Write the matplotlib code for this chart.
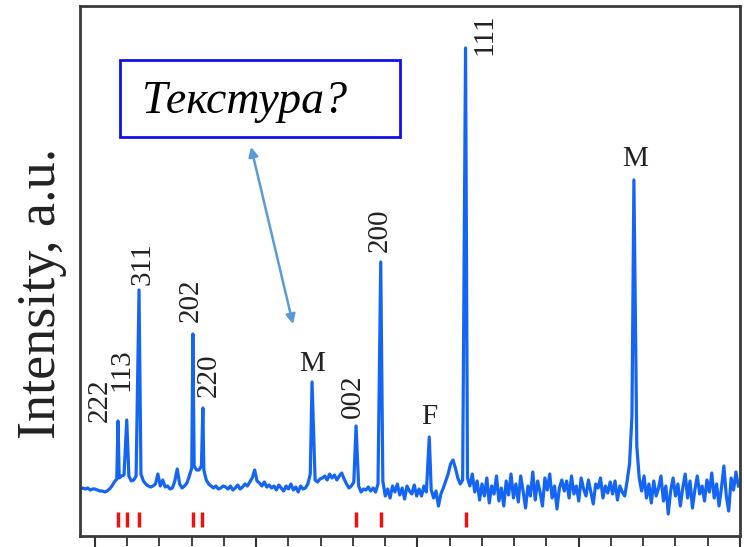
import numpy as np
import matplotlib.pyplot as plt
from matplotlib.patches import Rectangle

# baseline of the pattern, one value every 0.15 deg starting at 29.1
base_start = 29.1
base_step = 0.15
base_vals = [
    47, 48, 47, 48, 46, 47, 47, 46, 45, 45, 44, 45, 47, 50, 54, 57, 58, 60, 61, 65,
    60, 55, 56, 60, 66, 62, 55, 52, 50, 49, 50, 52, 62, 50, 56, 49, 50, 47, 48, 55,
    67, 52, 48, 50, 53, 60, 68, 70, 66, 66, 70, 66, 56, 52, 50, 48, 50, 47, 48, 50,
    49, 47, 50, 46, 48, 51, 47, 49, 52, 50, 54, 58, 66, 55, 53, 50, 54, 49, 51, 48,
    50, 46, 51, 48, 45, 50, 47, 52, 46, 49, 44, 50, 47, 48, 52, 62, 64, 56, 54, 57,
    58, 60, 56, 62, 58, 61, 56, 60, 63, 57, 52, 48, 50, 54, 56, 50, 44, 47, 46, 49,
    45, 48, 44, 52, 50, 55, 40, 47, 38, 50, 44, 52, 41, 48, 37, 50, 45, 42, 51, 40,
    47, 40, 50, 44, 52, 46, 38, 45, 30, 42, 48, 55, 62, 72, 76, 68, 58, 52, 56, 60,
    58, 50, 62, 44, 55, 36, 52, 40, 58, 33, 50, 42, 60, 35, 48, 30, 55, 41, 62, 38,
    52, 34, 60, 45, 28, 50, 40, 64, 36, 55, 44, 30, 58, 46, 62, 38, 50, 27, 48, 56,
    45, 55, 38, 60, 42, 50, 35, 58, 47, 40, 56, 44, 32, 52, 48, 58, 38, 50, 43, 54,
    42, 55, 36, 50, 44, 40, 55, 72, 120, 100, 90, 58, 45, 60, 38, 52, 33, 55, 40, 48,
    60, 35, 50, 22, 45, 58, 40, 52, 30, 48, 62, 38, 55, 28, 46, 60, 42, 50, 35, 56,
    44, 63, 38, 52, 30, 48, 70, 40, 25, 58, 46, 64, 50,
]

# peaks: position (deg) and top intensity
peak_pos = [31.43, 31.97, 32.73, 36.07, 36.69, 43.46, 46.19, 47.72, 50.73, 52.98, 63.42]
peak_int = [115, 116, 246, 202, 128, 154, 110, 274, 99, 488, 356]

# reference line positions (red bars)
ref_pos = [31.43, 31.97, 32.70, 36.05, 36.65, 46.19, 47.75, 52.98]

# labels: text, x, y, rotation
labels = [
    ("222", 30.31, 136, 90), ("113", 31.61, 166, 90), ("311", 32.98, 272, 90),
    ("202", 35.96, 236, 90), ("220", 37.08, 161, 90), ("M", 43.48, 172, 0),
    ("002", 46.02, 140, 90), ("200", 47.64, 306, 90), ("F", 50.75, 119, 0),
    ("111", 54.16, 502, 90), ("M", 63.48, 377, 0),
]

bx = base_start + base_step * np.arange(len(base_vals))
by = np.array(base_vals, dtype=float)
pp = np.array(peak_pos)
keep = np.min(np.abs(bx[None, :] - pp[:, None]), axis=0) > 0.06
x_all = np.concatenate([bx[keep], pp])
y_all = np.concatenate([by[keep], np.array(peak_int, dtype=float)])
order = np.argsort(x_all)
x_all, y_all = x_all[order], y_all[order]

fig = plt.figure(figsize=(7.44, 5.47), dpi=100)
ax = fig.add_axes([80 / 744, 11 / 547, 660 / 744, 530 / 547])

ax.plot(x_all, y_all, color='#1565f5', lw=2.3)
ax.vlines(ref_pos, 9, 24, color='#ee1111', lw=2.5)

for txt, x, y, rot in labels:
    ax.text(x, y, txt, rotation=rot, ha='center', va='center',
            fontsize=21, family='Liberation Serif', color='#222222')

ax.set_xlim(29.07, 70.0)
ax.set_ylim(0, 530)
ax.set_xticks([30, 40, 50, 60, 70])
ax.set_xticks(np.arange(30, 71, 2), minor=True)
ax.set_xticklabels([])
ax.set_yticks([])
ax.tick_params(axis='x', which='major', direction='out', length=8, width=1.5, color='#333333')
ax.tick_params(axis='x', which='minor', direction='out', length=7, width=1.3, color='#333333')
for s in ax.spines.values():
    s.set_color('#3a3a3a')
    s.set_linewidth(2)

fig.text(42 / 744, 1 - 293 / 547, 'Intensity, a.u.', rotation=90, ha='center', va='center',
         fontsize=39, family='Liberation Serif', color='#222222')

# annotation box
fig.patches.append(Rectangle((120 / 744, 1 - 137 / 547), 280 / 744, 77 / 547,
                             transform=fig.transFigure, fill=False,
                             edgecolor='#1010ee', lw=2))
fig.text(142 / 744, 1 - 113 / 547, 'Текстура?', ha='left', va='baseline',
         fontsize=33, family='Liberation Serif', style='italic', color='black')
ax.annotate('', xy=(293 / 744, 1 - 324 / 547), xytext=(251 / 744, 1 - 147 / 547),
            xycoords='figure fraction', textcoords='figure fraction',
            arrowprops=dict(arrowstyle='<|-|>', color='#5b9bd5', lw=1.8,
                            mutation_scale=14, shrinkA=0, shrinkB=0))

fig.savefig('out.png', dpi=100)
